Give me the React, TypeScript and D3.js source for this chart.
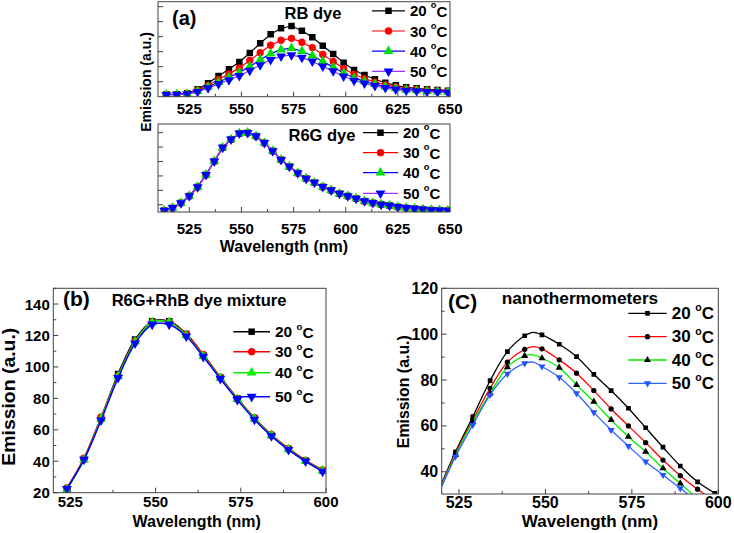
import React from 'react';
import * as d3 from 'd3';

const FONT = '"Liberation Sans", Arial, Helvetica, sans-serif';

// legend labels (temperatures)
const temps = ['20', '30', '40', '50'];

// (a) upper: RB dye, emission in arbitrary units
const rbWave = [514, 519, 524, 529, 534, 539, 544, 549, 554, 559, 564, 569, 574, 579, 584, 589, 594, 599, 604, 609, 614, 619, 624, 629, 634, 639, 644, 649];
const rb20 = [-0.85, -0.84, -0.77, -0.51, -0.11, 0.38, 0.83, 1.31, 1.91, 2.56, 3.16, 3.56, 3.71, 3.4, 2.96, 2.4, 1.85, 1.27, 0.78, 0.45, 0.16, -0.07, -0.24, -0.37, -0.44, -0.51, -0.55, -0.6];
const rb30 = [-0.87, -0.85, -0.79, -0.57, -0.25, 0.15, 0.52, 0.92, 1.41, 1.94, 2.43, 2.76, 2.89, 2.63, 2.27, 1.81, 1.35, 0.88, 0.48, 0.21, -0.03, -0.21, -0.35, -0.47, -0.52, -0.57, -0.61, -0.65];
const rb40 = [-0.87, -0.85, -0.81, -0.63, -0.35, -0.03, 0.28, 0.61, 1.02, 1.46, 1.87, 2.14, 2.24, 2.03, 1.73, 1.35, 0.97, 0.58, 0.25, 0.02, -0.17, -0.33, -0.45, -0.54, -0.58, -0.63, -0.66, -0.69];
const rb50 = [-0.87, -0.86, -0.82, -0.67, -0.43, -0.15, 0.11, 0.39, 0.74, 1.11, 1.46, 1.69, 1.78, 1.6, 1.35, 1.02, 0.7, 0.36, 0.08, -0.11, -0.28, -0.41, -0.51, -0.59, -0.63, -0.67, -0.69, -0.72];

// (a) lower: R6G dye, the four temperatures overlap
const r6gWave = [513, 517, 521, 525, 529, 533, 537, 541, 545, 549, 553, 557, 561, 565, 569, 573, 577, 581, 585, 589, 593, 597, 601, 605, 609, 613, 617, 621, 625, 629, 633, 637, 641, 645, 649];
const r6g20 = [-0.4, -0.22, 0.13, 0.61, 1.24, 2.08, 3.02, 3.96, 4.53, 4.95, 4.99, 4.76, 4.29, 3.73, 3.12, 2.65, 2.2, 1.82, 1.54, 1.24, 1.01, 0.77, 0.61, 0.44, 0.25, 0.13, 0.02, -0.05, -0.15, -0.22, -0.26, -0.31, -0.36, -0.38, -0.4];
const r6g30 = [-0.41, -0.22, 0.12, 0.6, 1.23, 2.07, 3.02, 3.96, 4.53, 4.95, 4.99, 4.76, 4.29, 3.73, 3.12, 2.65, 2.2, 1.82, 1.54, 1.24, 1.01, 0.77, 0.6, 0.43, 0.25, 0.13, 0.02, -0.05, -0.15, -0.22, -0.26, -0.31, -0.36, -0.38, -0.41];
const r6g40 = r6g20;
const r6g50 = r6g30;

// (b) R6G+RhB dye mixture
const mixWave = [524, 529, 534, 539, 544, 549, 554, 559, 564, 569, 574, 579, 584, 589, 594, 599];
const mix20 = [22.5, 41.5, 67.5, 95.5, 117.5, 129, 129, 121, 107.5, 93.5, 80, 67.5, 56.5, 48, 40.5, 34];
const mix30 = [23, 42, 68, 94.5, 116.5, 128.5, 128.5, 121, 108, 93.5, 80, 67.5, 57, 48, 40.5, 34.5];
const mix40 = [22, 41, 67, 94, 116, 128.5, 128.5, 120, 107, 93, 79.5, 67, 56.5, 47.5, 40, 34];
const mix50 = [22.5, 41, 66, 93, 115, 127, 127, 119.5, 106.5, 92.5, 79, 66.5, 56, 47.3, 40, 33.5];

// (c) nanothermometers
const nanoWave = [520, 524, 529, 534, 539, 544, 546.5, 549, 554, 559, 564, 569, 574, 579, 584, 589, 594, 599];
const nanoMarks = [524, 529, 534, 539, 544, 549, 554, 559, 564, 569, 574, 579, 584, 589, 594, 599];
const nano20 = [35, 48.7, 64, 79.7, 92.4, 99.3, 100.8, 99.7, 95.6, 90.2, 82.5, 75.4, 67.7, 59.2, 50.7, 42.5, 35.6, 30.6];
const nano30 = [34.5, 48, 62.6, 76.4, 87.8, 93.4, 94.6, 93.6, 88.8, 83, 75.4, 67.4, 60, 52.7, 45.1, 38.3, 32.4, 27];
const nano40 = [34, 47.3, 61.8, 74.2, 85.6, 90.5, 91, 89.5, 85.4, 77.9, 70.6, 62.6, 55.3, 48.7, 41.5, 34.9, 28.3, 22];
const nano50 = [33.5, 46.6, 60.4, 73.5, 82.7, 87.3, 87.8, 85.9, 81.2, 74.2, 65.9, 58.2, 51.2, 44.4, 38.6, 32.8, 27, 21];

// tick values
const aXMajor = [525, 550, 575, 600, 625, 650];
const aXMinor = [512.5, 537.5, 562.5, 587.5, 612.5, 637.5];
const aTopYTicks = [0, 1, 2, 3, 4, 5];
const aBotYTicks = [0, 1, 2, 3, 4, 5];
const bXMajor = [525, 550, 575, 600];
const bXMinor = [537.5, 562.5, 587.5];
const bYMajor = [20, 40, 60, 80, 100, 120, 140];
const bYMinor = [30, 50, 70, 90, 110, 130, 150];
const cXMajor = [525, 550, 575, 600];
const cXMinor = [537.5, 562.5, 587.5];
const cYMajor = [40, 60, 80, 100, 120];
const cYMinor = [50, 70, 90, 110];

type Shape = 'square' | 'circle' | 'up' | 'down';
type Style = { line: string; fill: string; shape: Shape };

const aStyles: Style[] = [
  { line: '#000000', fill: '#000000', shape: 'square' },
  { line: '#ff0000', fill: '#ff0000', shape: 'circle' },
  { line: '#0000ff', fill: '#00dd00', shape: 'up' },
  { line: '#9933ff', fill: '#0000ff', shape: 'down' },
];
const bStyles: Style[] = [
  { line: '#000000', fill: '#000000', shape: 'square' },
  { line: '#ff0000', fill: '#ff0000', shape: 'circle' },
  { line: '#00ee00', fill: '#00ee00', shape: 'up' },
  { line: '#0000ff', fill: '#0000ff', shape: 'down' },
];
const cStyles: Style[] = [
  { line: '#000000', fill: '#000000', shape: 'square' },
  { line: '#ff0000', fill: '#000000', shape: 'circle' },
  { line: '#00ee00', fill: '#000000', shape: 'up' },
  { line: '#3366ff', fill: '#2255ff', shape: 'down' },
];

const symbolPath = (shape: Shape, size: number) => {
  const type = shape === 'square' ? d3.symbolSquare : shape === 'circle' ? d3.symbolCircle : d3.symbolTriangle;
  return d3.symbol().type(type).size(size)() as string;
};

const Marker = ({ x, y, st, size }: { x: number; y: number; st: Style; size: number }) => (
  <path
    d={symbolPath(st.shape, size)}
    transform={`translate(${x},${y})${st.shape === 'down' ? ' rotate(180)' : ''}`}
    fill={st.fill}
  />
);

const Deg = ({ t, fs }: { t: string; fs: number }) => (
  <>
    {t + ' '}
    <tspan fontSize={fs * 0.62} dy={-fs * 0.36}>o</tspan>
    <tspan dy={fs * 0.36}>C</tspan>
  </>
);

type SeriesDef = { wave: number[]; values: number[]; st: Style; marks?: number[] };

function Plot(props: {
  id: string;
  x: d3.ScaleLinear<number, number>;
  y: d3.ScaleLinear<number, number>;
  series: SeriesDef[];
  curve: d3.CurveFactory;
  markSize: number;
  lineWidth: number;
  xMajor: number[];
  xMinor: number[];
  yMajor: number[];
  yMinor: number[];
  xLabels: boolean;
  yLabels: boolean;
  tickFont: number;
  xLabelDy: number;
}) {
  const { id, x, y, series, curve, markSize, lineWidth } = props;
  const [x0, x1] = x.range();
  const [yb, yt] = y.range();
  const line = d3
    .line<[number, number]>()
    .x((d) => x(d[0]))
    .y((d) => y(d[1]))
    .curve(curve);
  return (
    <g>
      <defs>
        <clipPath id={id}>
          <rect x={x0} y={yt} width={x1 - x0} height={yb - yt} />
        </clipPath>
      </defs>
      <g clipPath={`url(#${id})`}>
        {series.map((s, i) => (
          <g key={i}>
            <path
              d={line(s.wave.map((w, j) => [w, s.values[j]] as [number, number])) || ''}
              fill="none"
              stroke={s.st.line}
              strokeWidth={lineWidth}
            />
            {s.wave.map((w, j) =>
              !s.marks || s.marks.includes(w) ? (
                <Marker key={j} x={x(w)} y={y(s.values[j])} st={s.st} size={markSize} />
              ) : null
            )}
          </g>
        ))}
      </g>
      <rect x={x0} y={yt} width={x1 - x0} height={yb - yt} fill="none" stroke="#444" strokeWidth={1} />
      {props.xMajor.map((v) => (
        <line key={'xM' + v} x1={x(v)} x2={x(v)} y1={yb} y2={yb - 5} stroke="#444" />
      ))}
      {props.xMinor.map((v) => (
        <line key={'xm' + v} x1={x(v)} x2={x(v)} y1={yb} y2={yb - 3} stroke="#444" />
      ))}
      {props.yMajor.map((v) => (
        <line key={'yM' + v} x1={x0} x2={x0 + 5} y1={y(v)} y2={y(v)} stroke="#444" />
      ))}
      {props.yMinor.map((v) => (
        <line key={'ym' + v} x1={x0} x2={x0 + 3} y1={y(v)} y2={y(v)} stroke="#444" />
      ))}
      {props.xLabels &&
        props.xMajor.map((v) => (
          <text
            key={'xl' + v}
            x={x(v)}
            y={yb + props.xLabelDy}
            textAnchor="middle"
            dominantBaseline="central"
            fontSize={props.tickFont}
            fontWeight="bold"
          >
            {v}
          </text>
        ))}
      {props.yLabels &&
        props.yMajor.map((v) => (
          <text
            key={'yl' + v}
            x={x0 - 3.5}
            y={y(v)}
            textAnchor="end"
            dominantBaseline="central"
            fontSize={props.tickFont}
            fontWeight="bold"
          >
            {v}
          </text>
        ))}
    </g>
  );
}

function Legend(props: { rows: number[]; lx0: number; lx1: number; tx: number; fs: number; styles: Style[]; markSize: number; lineWidth: number }) {
  const { rows, lx0, lx1, tx, fs, styles, markSize, lineWidth } = props;
  return (
    <g>
      {temps.map((t, i) => (
        <g key={t}>
          <line x1={lx0} x2={lx1} y1={rows[i]} y2={rows[i]} stroke={styles[i].line} strokeWidth={lineWidth} />
          <Marker x={(lx0 + lx1) / 2} y={rows[i]} st={styles[i]} size={markSize} />
          <text x={tx} y={rows[i]} dominantBaseline="central" fontSize={fs} fontWeight="bold">
            <Deg t={t} fs={fs} />
          </text>
        </g>
      ))}
    </g>
  );
}

export default function App() {
  // (a) scales
  const xa = d3.scaleLinear().domain([510, 650]).range([158, 450]);
  const yaTop = d3.scaleLinear().domain([-1, 5.33]).range([96.7, 1.7]);
  const yaBot = d3.scaleLinear().domain([-0.5, 5.6]).range([212, 124]);
  // (b) scales
  const xb = d3.scaleLinear().domain([520, 600]).range([53.3, 326]);
  const yb = d3.scaleLinear().domain([20, 150]).range([492.7, 288.3]);
  // (c) scales
  const xc = d3.scaleLinear().domain([520, 600]).range([441.7, 718.3]);
  const yc = d3.scaleLinear().domain([30.3, 120]).range([494, 288.3]);

  const rbSeries: SeriesDef[] = [rb20, rb30, rb40, rb50].map((v, i) => ({ wave: rbWave, values: v, st: aStyles[i] }));
  const r6gSeries: SeriesDef[] = [r6g20, r6g30, r6g40, r6g50].map((v, i) => ({ wave: r6gWave, values: v, st: aStyles[i] }));
  const mixSeries: SeriesDef[] = [mix20, mix30, mix40, mix50].map((v, i) => ({ wave: mixWave, values: v, st: bStyles[i] }));
  const nanoSeries: SeriesDef[] = [nano20, nano30, nano40, nano50].map((v, i) => ({
    wave: nanoWave,
    values: v,
    st: cStyles[i],
    marks: nanoMarks,
  }));

  return (
    <svg
      width={734}
      height={533}
      style={{ position: 'absolute', left: 0, top: 0, background: '#fff' }}
      fontFamily={FONT}
    >
      {/* (a) RB dye */}
      <Plot
        id="clipA1"
        x={xa}
        y={yaTop}
        series={rbSeries}
        curve={d3.curveLinear}
        markSize={42}
        lineWidth={1.2}
        xMajor={aXMajor}
        xMinor={aXMinor}
        yMajor={aTopYTicks}
        yMinor={[]}
        xLabels={true}
        yLabels={false}
        tickFont={15}
        xLabelDy={12}
      />
      <text x={172} y={18} dominantBaseline="central" fontSize={20} fontWeight="bold">(a)</text>
      <text x={313} y={12.5} textAnchor="middle" dominantBaseline="central" fontSize={16.5} fontWeight="bold">RB dye</text>
      <Legend rows={[10.8, 31, 51.2, 71.4]} lx0={372} lx1={405} tx={410} fs={15} styles={aStyles} markSize={42} lineWidth={1.2} />

      {/* (a) R6G dye */}
      <Plot
        id="clipA2"
        x={xa}
        y={yaBot}
        series={r6gSeries}
        curve={d3.curveLinear}
        markSize={42}
        lineWidth={1.2}
        xMajor={aXMajor}
        xMinor={aXMinor}
        yMajor={aBotYTicks}
        yMinor={[]}
        xLabels={true}
        yLabels={false}
        tickFont={15}
        xLabelDy={16}
      />
      <text x={322} y={135} textAnchor="middle" dominantBaseline="central" fontSize={16.5} fontWeight="bold">R6G dye</text>
      <Legend rows={[132.7, 152.7, 172.7, 193.3]} lx0={363} lx1={398} tx={403} fs={15} styles={aStyles} markSize={42} lineWidth={1.2} />
      <text x={284} y={246.5} textAnchor="middle" dominantBaseline="central" fontSize={16} fontWeight="bold">Wavelength (nm)</text>
      <text
        transform="translate(146,82) rotate(-90)"
        textAnchor="middle"
        dominantBaseline="central"
        fontSize={14}
        fontWeight="bold"
      >
        Emission (a.u.)
      </text>

      {/* (b) dye mixture */}
      <Plot
        id="clipB"
        x={xb}
        y={yb}
        series={mixSeries}
        curve={d3.curveCatmullRom}
        markSize={42}
        lineWidth={1.5}
        xMajor={bXMajor}
        xMinor={bXMinor}
        yMajor={bYMajor}
        yMinor={bYMinor}
        xLabels={true}
        yLabels={true}
        tickFont={15}
        xLabelDy={9}
      />
      <text x={63} y={298.3} dominantBaseline="central" fontSize={21} fontWeight="bold">(b)</text>
      <text x={111.7} y={300} dominantBaseline="central" fontSize={16.5} fontWeight="bold">R6G+RhB dye mixture</text>
      <Legend rows={[331.7, 351.7, 372.7, 396.7]} lx0={233.3} lx1={270} tx={275} fs={15.5} styles={bStyles} markSize={42} lineWidth={1.5} />
      <text x={196.7} y={521.5} textAnchor="middle" dominantBaseline="central" fontSize={16} fontWeight="bold">Wavelength (nm)</text>
      <text
        transform="translate(9,396.7) rotate(-90)"
        textAnchor="middle"
        dominantBaseline="central"
        fontSize={17.5}
        fontWeight="bold"
        textLength={138}
        lengthAdjust="spacingAndGlyphs"
      >
        Emission (a.u.)
      </text>

      {/* (c) nanothermometers */}
      <Plot
        id="clipC"
        x={xc}
        y={yc}
        series={nanoSeries}
        curve={d3.curveCatmullRom}
        markSize={22}
        lineWidth={1.3}
        xMajor={cXMajor}
        xMinor={cXMinor}
        yMajor={cYMajor}
        yMinor={cYMinor}
        xLabels={true}
        yLabels={true}
        tickFont={16}
        xLabelDy={8}
      />
      <text x={448} y={301.7} dominantBaseline="central" fontSize={21} fontWeight="bold">(C)</text>
      <text x={501.7} y={298.3} dominantBaseline="central" fontSize={17.3} fontWeight="bold">nanothermometers</text>
      <Legend rows={[313.3, 336.7, 360, 383.3]} lx0={628.3} lx1={666.7} tx={671.7} fs={17} styles={cStyles} markSize={22} lineWidth={1.3} />
      <text x={590} y={521.5} textAnchor="middle" dominantBaseline="central" fontSize={17} fontWeight="bold">Wavelength (nm)</text>
      <text
        transform="translate(403.3,391.7) rotate(-90)"
        textAnchor="middle"
        dominantBaseline="central"
        fontSize={16}
        fontWeight="bold"
        textLength={113}
        lengthAdjust="spacingAndGlyphs"
      >
        Emission (a.u.)
      </text>
    </svg>
  );
}
